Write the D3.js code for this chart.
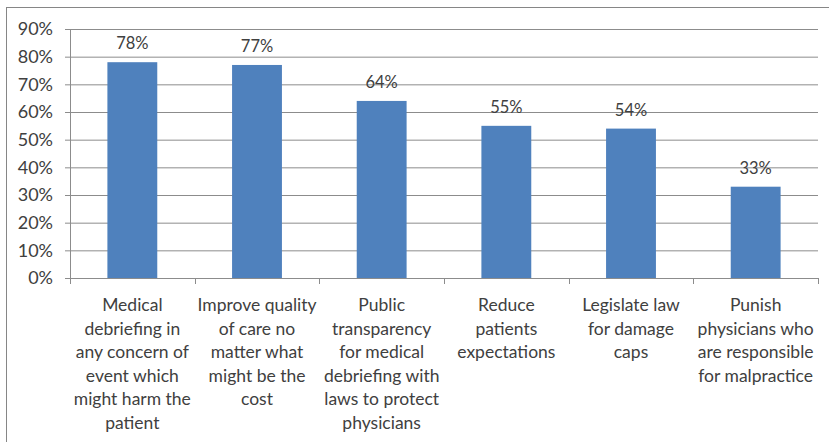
<!DOCTYPE html>
<html>
<head>
<meta charset="utf-8">
<script src="https://cdn.jsdelivr.net/npm/d3@7"></script>
<style>
  body { margin: 0; background: #fff; }
  svg { display: block; font-family: Lato, "Open Sans", sans-serif; }
</style>
</head>
<body>
<div id="chart"></div>
<script>
const categories = [
  "Medical debriefing",
  "Improve quality of care",
  "Public transparency",
  "Reduce patients expectations",
  "Legislate law for damage caps",
  "Punish physicians"
];
const labelLines = [
  ["Medical", "debriefing in", "any concern of", "event which", "might harm the", "patient"],
  ["Improve quality", "of care no", "matter what", "might be the", "cost"],
  ["Public", "transparency", "for medical", "debriefing with", "laws to protect", "physicians"],
  ["Reduce", "patients", "expectations"],
  ["Legislate law", "for damage", "caps"],
  ["Punish", "physicians who", "are responsible", "for malpractice"]
];
const values = [78, 77, 64, 55, 54, 33];
const yTicks = [0, 10, 20, 30, 40, 50, 60, 70, 80, 90];

const W = 829, H = 442;
const pL = 70, pR = 818, pT = 29, pB = 278;
const textCol = "#404040", gridCol = "#8c8c8c", barCol = "#4F81BD";

const svg = d3.select("#chart").append("svg").attr("width", W).attr("height", H);

// outer frame
svg.append("rect").attr("x", 6.5).attr("y", 7.5).attr("width", W - 5).attr("height", H)
   .attr("fill", "none").attr("stroke", "#868686").attr("stroke-width", 1);

const x = d3.scaleBand().domain(categories).range([pL, pR]).paddingInner(0.6).paddingOuter(0.3);
const y = d3.scaleLinear().domain([0, 90]).range([pB, pT]);

// grid lines
yTicks.forEach(t => {
  svg.append("line")
     .attr("x1", pL - 5).attr("x2", pR).attr("y1", y(t) + 0.5).attr("y2", y(t) + 0.5)
     .attr("stroke", gridCol).attr("stroke-width", 1);
  svg.append("text")
     .attr("x", 53).attr("y", y(t)).attr("dy", "0.36em").attr("text-anchor", "end")
     .attr("font-size", "18px").attr("fill", textCol).text(t + "%");
});

// y axis line
svg.append("line").attr("x1", pL + 0.5).attr("x2", pL + 0.5).attr("y1", pT).attr("y2", pB)
   .attr("stroke", gridCol);

// category tick marks at boundaries
const step = (pR - pL) / categories.length;
d3.range(categories.length + 1).forEach(i => {
  const tx = Math.round(pL + i * step) + 0.5;
  svg.append("line").attr("x1", tx).attr("x2", tx).attr("y1", pB).attr("y2", pB + 6)
     .attr("stroke", gridCol);
});

// bars
svg.selectAll("rect.bar").data(values).enter().append("rect")
   .attr("class", "bar")
   .attr("x", (d, i) => x(categories[i]))
   .attr("width", x.bandwidth())
   .attr("y", d => y(d))
   .attr("height", d => pB - y(d))
   .attr("fill", barCol);

// value labels
svg.selectAll("text.val").data(values).enter().append("text")
   .attr("class", "val")
   .attr("x", (d, i) => x(categories[i]) + x.bandwidth() / 2)
   .attr("y", d => y(d) - 13)
   .attr("text-anchor", "middle")
   .attr("font-size", "16.5px").attr("fill", textCol)
   .text(d => d + "%");

// category labels
labelLines.forEach((lines, i) => {
  const cx = x(categories[i]) + x.bandwidth() / 2;
  const t = svg.append("text").attr("text-anchor", "middle")
     .attr("font-size", "17.5px").attr("fill", textCol);
  lines.forEach((ln, j) => {
    t.append("tspan").attr("x", cx).attr("y", 311 + j * 23.5).text(ln);
  });
});
</script>
</body>
</html>
